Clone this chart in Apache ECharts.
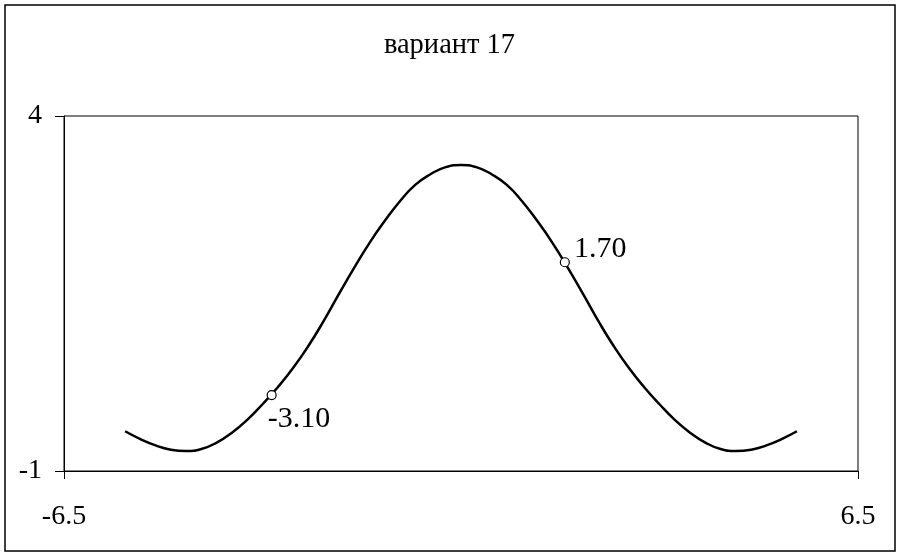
<!DOCTYPE html>
<html>
<head>
<meta charset="utf-8">
<script src="https://cdn.jsdelivr.net/npm/echarts@6/dist/echarts.min.js"></script>
<style>
html,body{margin:0;padding:0;background:#fff;}
#c{width:899px;height:556px;}
</style>
</head>
<body>
<div id="c"></div>
<script>
var titleText = 'вариант 17';
var xValues = [-5.5,-5.25,-5,-4.75,-4.5,-4.25,-4,-3.75,-3.5,-3.25,-3,-2.75,-2.5,-2.25,-2,-1.75,-1.5,-1.25,-1,-0.75,-0.5,-0.25,0,
               0.25,0.5,0.75,1,1.25,1.5,1.75,2,2.25,2.5,2.75,3,3.25,3.5,3.75,4,4.25,4.5,4.75,5,5.25,5.5];
var yValues = [-0.44,-0.55,-0.64,-0.70,-0.72,-0.69,-0.60,-0.46,-0.28,-0.06,0.18,0.45,0.76,1.11,1.49,1.86,2.21,2.52,2.80,3.03,3.18,3.28,3.31,
               3.28,3.18,3.03,2.80,2.52,2.21,1.86,1.49,1.11,0.76,0.45,0.18,-0.06,-0.28,-0.46,-0.60,-0.69,-0.72,-0.70,-0.64,-0.55,-0.44];
var markX = [-3.1, 1.7];
var markY = [0.07, 1.94];
var markLabels = ['-3.10', '1.70'];
var xTicks = [-6.5, 6.5];
var yTicks = [-1, 4];

var lineData = xValues.map(function(x, i){ return [x, yValues[i]]; });
var markData = markX.map(function(x, i){ return {value:[x, markY[i]], name: markLabels[i]}; });

var font = 'Liberation Serif, Times New Roman, serif';
var chart = echarts.init(document.getElementById('c'), null, {renderer:'canvas'});
chart.setOption({
  animation:false,
  backgroundColor:'#fff',
  title:{text:titleText, left:'center', top:26,
    textStyle:{fontFamily:font, fontSize:28.5, fontWeight:'normal', color:'#000'}},
  graphic:[{type:'rect', shape:{x:5, y:5, width:890, height:546},
    style:{fill:'none', stroke:'#000', lineWidth:1.5}, silent:true}],
  grid:{left:64, right:41, top:116, bottom:85, show:true, borderColor:'#000', borderWidth:1, backgroundColor:'#fff'},
  xAxis:{type:'value', min:-6.5, max:6.5,
    axisLine:{show:true, onZero:false, lineStyle:{color:'#000', width:1}},
    axisTick:{show:true, inside:false, length:8, customValues:xTicks, lineStyle:{color:'#000'}},
    axisLabel:{customValues:xTicks, margin:32, fontFamily:font, fontSize:28, color:'#000',
      formatter:function(v){ return v.toFixed(1); }},
    splitLine:{show:false}},
  yAxis:{type:'value', min:-1, max:4,
    axisLine:{show:true, onZero:false, lineStyle:{color:'#000', width:1}},
    axisTick:{show:true, inside:false, length:9, customValues:yTicks, lineStyle:{color:'#000'}},
    axisLabel:{customValues:yTicks, margin:22, fontFamily:font, fontSize:28, color:'#000'},
    splitLine:{show:false}},
  series:[
    {type:'line', data:lineData, smooth:true, symbol:'none', z:2,
      lineStyle:{color:'#000', width:2.5}},
    {type:'scatter', data:markData, symbol:'circle', symbolSize:9, z:3,
      itemStyle:{color:'#fff', borderColor:'#000', borderWidth:1.2, opacity:1},
      label:{show:true, formatter:function(p){return p.name;}, fontFamily:font, fontSize:30, color:'#000',
        position:'right'},
      labelLayout:function(p){
        if (p.dataIndex === 0) { return {dx:-14, dy:24}; }
        return {dx:-1, dy:-13};
      }}
  ]
});
</script>
</body>
</html>
